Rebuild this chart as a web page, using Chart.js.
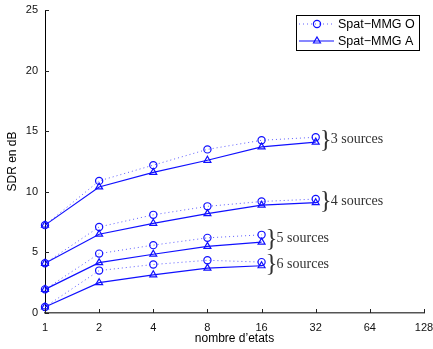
<!DOCTYPE html>
<html lang="fr">
<head>
  <meta charset="UTF-8">
  <title>SDR en fonction du nombre d'etats</title>
  <script src="https://cdn.jsdelivr.net/npm/chart.js@4.4.2/dist/chart.umd.min.js"></script>
  <style>
    body { margin: 0; background: #fff; }
    canvas { display: block; }
  </style>
</head>
<body>
<canvas id="myChart" width="433" height="349"></canvas>
<script>
// values
const xLabels = ['1', '2', '4', '8', '16', '32', '64', '128'];
const groupNames = ['3 sources', '4 sources', '5 sources', '6 sources'];
const seriesNames = ['Spat\u2212MMG O', 'Spat\u2212MMG A'];

const o3 = [7.25, 10.9, 12.2, 13.5, 14.25, 14.5];
const a3 = [7.25, 10.4, 11.6, 12.6, 13.7, 14.1];
const o4 = [4.1, 7.1, 8.1, 8.8, 9.2, 9.4];
const a4 = [4.1, 6.5, 7.4, 8.2, 8.9, 9.1];
const o5 = [1.95, 4.9, 5.6, 6.2, 6.45];
const a5 = [1.95, 4.15, 4.85, 5.5, 5.85];
const o6 = [0.5, 3.5, 4.0, 4.35, 4.2];
const a6 = [0.5, 2.5, 3.15, 3.7, 3.9];

const yTicks = [0, 5, 10, 15, 20, 25];

const blue = '#1010ff';
const sans = "'Liberation Sans', Arial, sans-serif";

function oSet(data) {
  return {
    label: seriesNames[0], data: data,
    borderColor: 'rgba(40,40,255,0.75)', borderWidth: 1, borderDash: [1, 3],
    pointStyle: 'circle', pointRadius: 3.6, pointBorderColor: blue,
    pointBackgroundColor: 'rgba(0,0,0,0)', pointBorderWidth: 1.2,
    tension: 0, clip: false
  };
}
function aSet(data) {
  return {
    label: seriesNames[1], data: data,
    borderColor: blue, borderWidth: 1.2,
    pointStyle: 'triangle', pointRadius: 4, pointBorderColor: blue,
    pointBackgroundColor: 'rgba(0,0,0,0)', pointBorderWidth: 1.2,
    tension: 0, clip: false
  };
}

const datasets = [oSet(o3), aSet(a3), oSet(o4), aSet(a4), oSet(o5), aSet(a5), oSet(o6), aSet(a6)];

// small ticks pointing into the plot, like the original
const innerTicks = {
  id: 'innerTicks',
  afterDraw(chart) {
    const c = chart.ctx, a = chart.chartArea;
    const xs = chart.scales.x, ys = chart.scales.y;
    c.save();
    c.strokeStyle = '#222';
    c.lineWidth = 1;
    c.beginPath();
    xs.ticks.forEach((t, i) => {
      const px = Math.round(xs.getPixelForTick(i)) + 0.5;
      c.moveTo(px, a.bottom); c.lineTo(px, a.bottom - 4);
    });
    ys.ticks.forEach((t, i) => {
      const py = Math.round(ys.getPixelForTick(i)) + 0.5;
      c.moveTo(a.left, py); c.lineTo(a.left + 4, py);
    });
    c.stroke();
    c.restore();
  }
};

// "} n sources" next to the last point of each pair
const braces = {
  id: 'braces',
  afterDatasetsDraw(chart) {
    const c = chart.ctx;
    c.save();
    c.fillStyle = '#333';
    c.textBaseline = 'middle';
    groupNames.forEach((name, g) => {
      const mo = chart.getDatasetMeta(g * 2).data;
      const ma = chart.getDatasetMeta(g * 2 + 1).data;
      const po = mo[mo.length - 1], pa = ma[ma.length - 1];
      const x = Math.max(po.x, pa.x);
      const y = (po.y + pa.y) / 2;
      c.font = "25px 'Liberation Serif', serif";
      c.fillText('}', x + 4, y + 1);
      c.font = "14px 'Liberation Serif', serif";
      c.fillText(name, x + 15, y);
    });
    c.restore();
  }
};

function mark(c, style, x, y, r) {
  c.beginPath();
  if (style === 'circle') {
    c.arc(x, y, r, 0, Math.PI * 2);
  } else {
    c.moveTo(x, y - r);
    c.lineTo(x + r * 0.87, y + r * 0.5);
    c.lineTo(x - r * 0.87, y + r * 0.5);
    c.closePath();
  }
  c.stroke();
}

// boxed legend in the top right corner
const boxLegend = {
  id: 'boxLegend',
  afterDraw(chart) {
    const c = chart.ctx, a = chart.chartArea;
    const w = 123, h = 35;
    const left = a.right - 5 - w, top = a.top + 5;
    c.save();
    c.fillStyle = '#fff';
    c.fillRect(left, top, w, h);
    c.strokeStyle = '#000';
    c.lineWidth = 1;
    c.strokeRect(left + 0.5, top + 0.5, w, h);
    [0, 1].forEach(i => {
      const ds = chart.data.datasets[i];
      const y = top + 9 + i * 17;
      c.strokeStyle = ds.borderColor;
      c.lineWidth = ds.borderWidth;
      c.setLineDash(ds.borderDash || []);
      c.beginPath();
      c.moveTo(left + 3, y); c.lineTo(left + 38, y);
      c.stroke();
      c.setLineDash([]);
      c.strokeStyle = ds.pointBorderColor;
      c.lineWidth = ds.pointBorderWidth;
      mark(c, ds.pointStyle, left + 21, y, ds.pointRadius);
      c.fillStyle = '#000';
      c.font = '12.5px ' + sans;
      c.textBaseline = 'middle';
      c.fillText(ds.label, left + 42, y + 0.5);
    });
    c.restore();
  }
};

const ctx = document.getElementById('myChart').getContext('2d');
const myChart = new Chart(ctx, {
  type: 'line',
  data: { labels: xLabels, datasets: datasets },
  options: {
    responsive: false,
    animation: false,
    devicePixelRatio: 1,
    layout: { padding: { top: 10, right: 9, left: 0, bottom: 0 } },
    plugins: { legend: { display: false }, tooltip: { enabled: false } },
    scales: {
      x: {
        type: 'category',
        offset: false,
        grid: { display: false, drawTicks: false },
        border: { display: true, color: '#555', width: 1.5 },
        ticks: { color: '#111', padding: 8, font: { family: sans, size: 11 }, maxRotation: 0, autoSkip: false },
        title: { display: true, text: 'nombre d\u2019etats', color: '#000', font: { family: sans, size: 12 }, padding: { top: 0, bottom: 3 } },
        afterFit(s) { s.height = 36; s.paddingLeft = 0; s.paddingRight = 0; }
      },
      y: {
        min: 0, max: 25,
        afterBuildTicks(s) { s.ticks = yTicks.map(v => ({ value: v })); },
        grid: { display: false, drawTicks: false },
        border: { display: true, color: '#000', width: 1 },
        ticks: { color: '#111', padding: 7, font: { family: sans, size: 11 } },
        title: { display: true, text: 'SDR en dB', color: '#000', font: { family: sans, size: 12 }, padding: { top: 5, bottom: 0 } },
        afterFit(s) { s.width = 45; s.paddingTop = 0; s.paddingBottom = 0; }
      }
    }
  },
  plugins: [innerTicks, braces, boxLegend]
});
</script>
</body>
</html>
